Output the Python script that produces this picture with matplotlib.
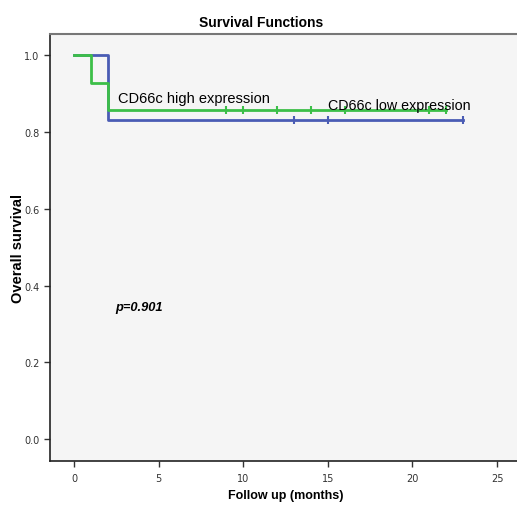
import matplotlib
matplotlib.use("Agg")
import matplotlib.pyplot as plt

# Kaplan-Meier step data
high_times = [0, 1, 2, 22]
high_surv = [1.0, 0.929, 0.857, 0.857]
high_censor_t = [9, 10, 12, 14, 16, 21, 22]

low_times = [0, 2, 23]
low_surv = [1.0, 0.833, 0.833]
low_censor_t = [13, 15, 23]

xticks = [0, 5, 10, 15, 20, 25]
yticks = [0.0, 0.2, 0.4, 0.6, 0.8, 1.0]

green = "#3cbf48"
blue = "#4a5cb4"

fig = plt.figure(figsize=(5.17, 5.10), dpi=100)
ax = fig.add_axes([50 / 517, 48 / 510, 467 / 517, 427 / 510])
ax.set_facecolor("#f5f5f5")

ax.step(low_times, low_surv, where="post", color=blue, lw=2)
ax.step(high_times, high_surv, where="post", color=green, lw=2)
ax.plot(low_censor_t, [low_surv[-1]] * len(low_censor_t), linestyle="None",
        marker="|", markersize=6, mew=1.5, color=blue)
ax.plot(high_censor_t, [high_surv[-1]] * len(high_censor_t), linestyle="None",
        marker="|", markersize=6, mew=1.5, color=green)

ax.text(2.6, 0.888, "CD66c high expression", fontsize=10.5, family="Liberation Sans",
        va="center")
ax.text(15.0, 0.87, "CD66c low expression", fontsize=10.3, family="Liberation Sans",
        va="center")
ax.text(2.45, 0.344, "p=0.901", fontsize=9.3, family="Liberation Sans",
        style="italic", weight="bold", va="center")

ax.set_xlim(-1.42, 26.18)
ax.set_ylim(-0.057, 1.056)
ax.set_xticks(xticks)
ax.set_yticks(yticks)
ax.set_xticklabels([str(t) for t in xticks])
ax.set_yticklabels(["%.1f" % t for t in yticks])
ax.tick_params(labelsize=7, colors="#333333", length=4, width=1)
ax.tick_params(axis="x", pad=5)

for s in ["left", "bottom"]:
    ax.spines[s].set_color("#222222")
    ax.spines[s].set_linewidth(1.2)
ax.spines["top"].set_color("#777777")
ax.spines["top"].set_linewidth(1.5)
ax.spines["right"].set_visible(False)

fig.text(0.505, 0.954, "Survival Functions", ha="center", va="center",
         fontsize=10, weight="bold", family="Liberation Sans")
fig.text(0.552, 0.027, "Follow up (months)", ha="center", va="center",
         fontsize=9, weight="bold", family="Liberation Sans")
fig.text(0.035, 0.513, "Overall survival", ha="center", va="center",
         rotation=90, fontsize=10.5, weight="bold", family="Liberation Sans")

fig.savefig("out.png", dpi=100)
